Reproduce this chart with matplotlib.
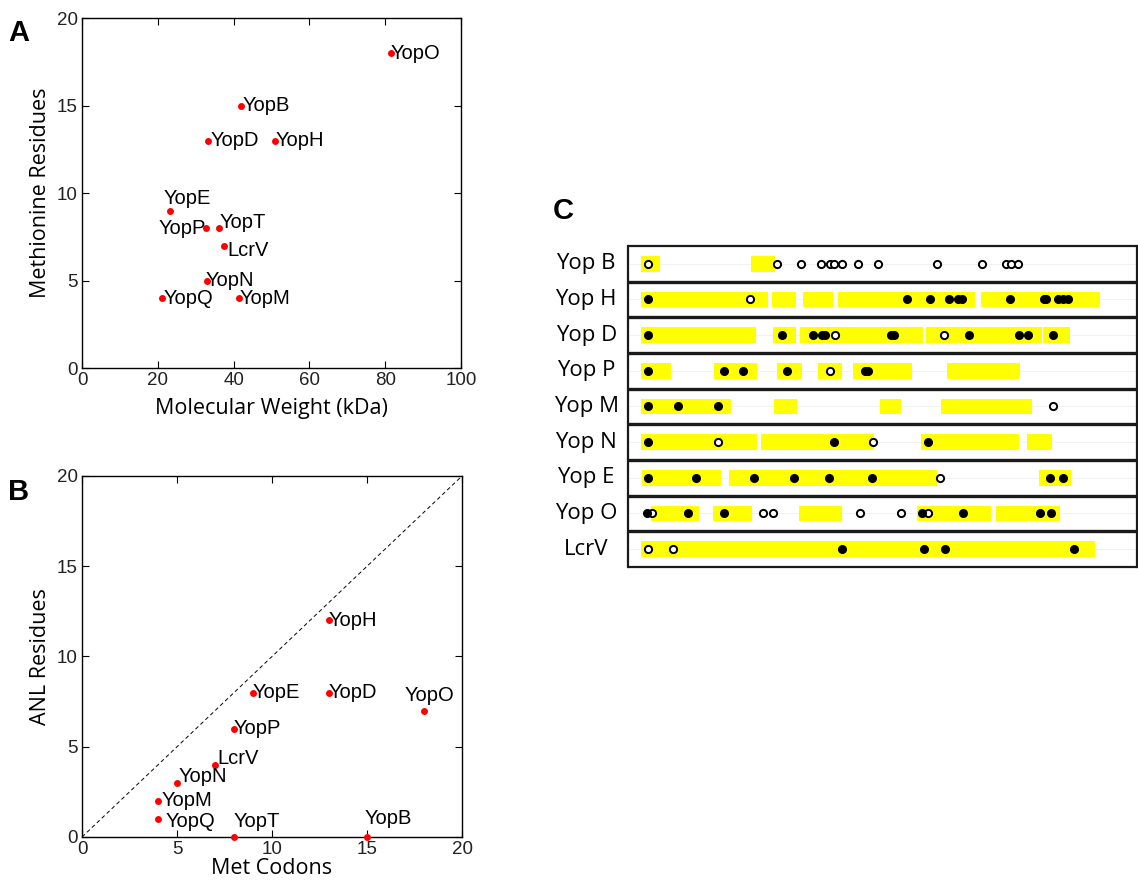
import matplotlib
matplotlib.use('Agg')
import matplotlib.pyplot as plt

# --- panel A: molecular weight vs methionine residues ---
a_names = ['YopO', 'YopB', 'YopD', 'YopH', 'YopE', 'YopP', 'YopT', 'LcrV', 'YopN', 'YopQ', 'YopM']
a_mw = [81.5, 42, 33.3, 51, 23.2, 32.6, 36.2, 37.4, 33.1, 21, 41.4]
a_met = [18, 15, 13, 13, 9, 8, 8, 7, 5, 4, 4]

# --- panel B: Met codons vs ANL residues ---
b_names = ['YopH', 'YopE', 'YopD', 'YopO', 'YopP', 'LcrV', 'YopN', 'YopM', 'YopQ', 'YopT', 'YopB']
b_codons = [13, 9, 13, 18, 8, 7, 5, 4, 4, 8, 15]
b_anl = [12, 8, 8, 7, 6, 4, 3, 2, 1, 0, 0]

# --- panel C: per-protein segments (yellow) and Met sites (filled / open) ---
c_rows = ['Yop B', 'Yop H', 'Yop D', 'Yop P', 'Yop M', 'Yop N', 'Yop E', 'Yop O', 'LcrV']
c_segments = [
    [(13, 32), (123, 147)],
    [(13, 140), (144, 168), (175, 205), (210, 347), (353, 472)],
    [(13, 128), (145, 168), (172, 295), (298, 414), (415, 442)],
    [(13, 43), (86, 129), (149, 174), (190, 214), (225, 284), (319, 392)],
    [(13, 103), (146, 169), (252, 273), (313, 404)],
    [(13, 129), (133, 246), (293, 391), (399, 424)],
    [(14, 93), (101, 309), (411, 443)],
    [(23, 71), (85, 124), (171, 214), (289, 363), (368, 432)],
    [(13, 467)],
]
c_filled = [
    [],
    [20, 279, 302, 321, 330, 334, 382, 416, 418, 430, 435, 440],
    [20, 154, 185, 194, 197, 263, 266, 341, 391, 400, 425],
    [20, 96, 115, 159, 237, 240],
    [20, 50, 90],
    [20, 206, 300],
    [20, 68, 126, 166, 201, 244, 422, 435],
    [19, 60, 96, 294, 335, 412, 423],
    [214, 296, 317, 446],
]
c_open = [
    [20, 149, 173, 193, 202, 206, 214, 230, 250, 309, 354, 378, 383, 390],
    [122],
    [207, 316],
    [202],
    [425],
    [90, 245],
    [312],
    [24, 135, 145, 232, 273, 300],
    [20, 45],
]
c_length = 509

# label placement tweaks (dx, dy, ha) in data units
a_label_pos = {'YopE': (-1.7, 0.7, 'left'), 'YopP': (0, 0, 'right'),
               'YopT': (0.2, 0.3, 'left'), 'LcrV': (1.0, -0.3, 'left'),
               'YopN': (-0.5, 0, 'left'), 'YopQ': (0.6, 0, 'left'),
               'YopD': (0.5, 0, 'left'), 'YopB': (0.3, 0, 'left'),
               'YopM': (0.3, 0, 'left')}
b_label_pos = {'YopO': (-1.05, 0.83, 'left'), 'LcrV': (0.14, 0.36, 'left'),
               'YopN': (0.1, 0.34, 'left'), 'YopM': (0.2, 0, 'left'),
               'YopQ': (0.4, -0.17, 'left'), 'YopT': (0, 0.85, 'left'),
               'YopB': (-0.15, 1.0, 'left')}

TICK_FONT = 'Liberation Sans'
LABEL_FONT = 'Open Sans'

fig = plt.figure(figsize=(11.38, 8.8), dpi=100)


def style_matlab(ax):
    ax.tick_params(direction='in', length=5, width=0.8, top=True, right=True,
                   labelsize=13.5, labelcolor='#222222', pad=3)
    for lab in ax.get_xticklabels() + ax.get_yticklabels():
        lab.set_fontfamily(TICK_FONT)
    for s in ax.spines.values():
        s.set_linewidth(1.0)


def scatter_labels(ax, xs, ys, names, pos):
    ax.plot(xs, ys, 'o', color='red', markersize=5, markeredgewidth=0,
            clip_on=False, zorder=3)
    for x, y, n in zip(xs, ys, names):
        dx, dy, ha = pos.get(n, (0, 0, 'left'))
        ax.text(x + dx, y + dy, n, ha=ha, va='center', fontsize=14.5,
                family=TICK_FONT, color='black', zorder=4)


# --- A ---
axA = fig.add_axes([0.0721, 0.5818, 0.3330, 0.3977])
scatter_labels(axA, a_mw, a_met, a_names, a_label_pos)
axA.set_xlim(0, 100)
axA.set_ylim(0, 20)
axA.set_xticks([0, 20, 40, 60, 80, 100])
axA.set_yticks([0, 5, 10, 15, 20])
style_matlab(axA)
axA.set_xlabel('Molecular Weight (kDa)', fontsize=15.5, family=LABEL_FONT, labelpad=6)
axA.set_ylabel('Methionine Residues', fontsize=15.5, family=LABEL_FONT, labelpad=4)
fig.text(0.007, 0.978, 'A', fontsize=21, fontweight='bold', family=TICK_FONT,
         va='top', ha='left')

# --- B ---
axB = fig.add_axes([0.0721, 0.0489, 0.3339, 0.4102])
axB.plot([0, 20], [0, 20], '--', color='black', linewidth=0.7, dashes=(4, 3))
scatter_labels(axB, b_codons, b_anl, b_names, b_label_pos)
axB.set_xlim(0, 20)
axB.set_ylim(0, 20)
axB.set_xticks([0, 5, 10, 15, 20])
axB.set_yticks([0, 5, 10, 15, 20])
style_matlab(axB)
axB.set_xlabel('Met Codons', fontsize=15.5, family=LABEL_FONT, labelpad=0)
axB.set_ylabel('ANL Residues', fontsize=15.5, family=LABEL_FONT, labelpad=4)
fig.text(0.007, 0.457, 'B', fontsize=21, fontweight='bold', family=TICK_FONT,
         va='top', ha='left')

# --- C ---
axC = fig.add_axes([0.5518, 0.3557, 0.4473, 0.3648])
n = len(c_rows)
axC.set_xlim(0, c_length)
axC.set_ylim(n, 0)
axC.axis('off')
bar_h = 0.44
for i, name in enumerate(c_rows):
    yc = i + 0.5
    axC.plot([0, c_length], [yc, yc], color='#f0f0f0', linewidth=0.6, zorder=1)
    for s, e in c_segments[i]:
        axC.add_patch(plt.Rectangle((s, yc - bar_h / 2), e - s, bar_h,
                                    facecolor='#ffff00', edgecolor='none', zorder=2))
    if c_open[i]:
        axC.plot(c_open[i], [yc] * len(c_open[i]), 'o', markersize=5.2,
                 markerfacecolor='white', markeredgecolor='black',
                 markeredgewidth=1.4, zorder=3)
    if c_filled[i]:
        axC.plot(c_filled[i], [yc] * len(c_filled[i]), 'o', markersize=5.5,
                 markerfacecolor='black', markeredgecolor='black', zorder=4)
    axC.text(-0.082, 1 - (i + 0.5) / n, name, transform=axC.transAxes,
             ha='center', va='center', fontsize=16, family=LABEL_FONT)
for i in range(n + 1):
    axC.plot([0, c_length], [i, i], color='#1a1a1a',
             linewidth=2.4 if 0 < i < n else 1.6, zorder=5, clip_on=False,
             solid_capstyle='butt')
axC.plot([0, 0], [0, n], color='#1a1a1a', linewidth=1.6, zorder=5, clip_on=False)
axC.plot([c_length, c_length], [0, n], color='#1a1a1a', linewidth=1.6, zorder=5,
         clip_on=False)
fig.text(0.486, 0.776, 'C', fontsize=21, fontweight='bold', family=TICK_FONT,
         va='top', ha='left')

fig.savefig('out.png', dpi=100)
